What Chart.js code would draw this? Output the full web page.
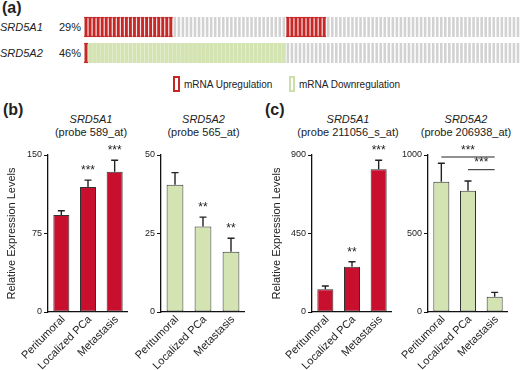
<!DOCTYPE html>
<html><head><meta charset="utf-8">
<script src="https://cdn.jsdelivr.net/npm/chart.js@4.4.1/dist/chart.umd.min.js"></script>
<style>
html,body{margin:0;padding:0;background:#fff;}
#fig{position:relative;width:520px;height:370px;overflow:hidden;font-family:"Liberation Sans",Arial,sans-serif;color:#222;background:#fff;}
.t{position:absolute;white-space:nowrap;line-height:1;}
.c{text-align:center;width:160px;}
canvas{position:absolute;}
.box{position:absolute;box-sizing:border-box;background:#fff;}
</style></head><body>
<div id="fig">
  <div class="t" style="left:2px;top:0px;font-size:16px;font-weight:bold">(a)</div>
  <div class="box" style="left:173px;top:76px;width:7px;height:16px;border:2px solid #c62828"></div>
  <div class="t" style="left:184px;top:79.5px;font-size:10px">mRNA Upregulation</div>
  <div class="box" style="left:289px;top:76px;width:6px;height:16px;border:2px solid #cddfa8"></div>
  <div class="t" style="left:299px;top:79.5px;font-size:10px">mRNA Downregulation</div>

  <div class="t" style="left:3px;top:101.5px;font-size:16px;font-weight:bold">(b)</div>
  <div class="t c" style="left:11px;top:113.6px;font-size:11px;font-style:italic">SRD5A1</div>
  <div class="t c" style="left:11px;top:127.3px;font-size:11px">(probe 589_at)</div>
  <div class="t c" style="left:123.5px;top:113.6px;font-size:11px;font-style:italic">SRD5A2</div>
  <div class="t c" style="left:123.5px;top:127.3px;font-size:11px">(probe 565_at)</div>

  <div class="t" style="left:265px;top:101.5px;font-size:16px;font-weight:bold">(c)</div>
  <div class="t c" style="left:268px;top:113.6px;font-size:11px;font-style:italic">SRD5A1</div>
  <div class="t c" style="left:268px;top:127.3px;font-size:11px">(probe 211056_s_at)</div>
  <div class="t c" style="left:386px;top:113.6px;font-size:11px;font-style:italic">SRD5A2</div>
  <div class="t c" style="left:386px;top:127.3px;font-size:11px">(probe 206938_at)</div>
</div>
<script>
// ---------- DATA ----------
// Panel (a): per-case alteration status, written as runs read left-to-right
const oncoGenes = ['SRD5A1', 'SRD5A2'];
const oncoPercents = ['29%', '46%'];
const casesSRD5A1 = [['up', 22], ['none', 28], ['up', 10], ['none', 48]];
const casesSRD5A2 = [['up', 1], ['down', 49], ['none', 58]];

// Panels (b) and (c)
const groups = ['Peritumoral', 'Localized PCa', 'Metastasis'];
const yTitle = 'Relative Expression Levels';

const b1Mean = [92.6, 119.4, 134.0];
const b1Sem  = [4.2, 6.6, 11.0];
const b1Sig  = ['', '***', '***'];
const b1Ticks = [0, 75, 150];

const b2Mean = [40.5, 27.2, 19.2];
const b2Sem  = [3.9, 3.0, 4.3];
const b2Sig  = ['', '**', '**'];
const b2Ticks = [0, 25, 50];

const c1Mean = [130, 260, 818];
const c1Sem  = [19, 28, 52];
const c1Sig  = ['', '**', '***'];
const c1Ticks = [0, 450, 900];

const c2Mean = [830, 773, 97];
const c2Sem  = [117, 61, 28];
const c2Sig  = ['', '', ''];
const c2Ticks = [0, 500, 1000];
const c2Comparisons = [[0, 2, '***'], [1, 2, '***']];

// ---------- STYLE ----------
const FONT = '"Liberation Sans", Arial, sans-serif';
Chart.defaults.font.family = FONT;
Chart.defaults.color = '#222';
const RED = '#c8102e';
const GREEN = '#d4e3b2';
const fig = document.getElementById('fig');

// ---------- PANEL (a) ----------
function expand(runs) {
  const out = [];
  runs.forEach(([kind, n]) => { for (let k = 0; k < n; k++) out.push(kind); });
  return out;
}
const rows = [expand(casesSRD5A1), expand(casesSRD5A2)];
rows.forEach((st, r) => {
  const cy = [27, 53.3][r];
  const g = document.createElement('div');
  g.className = 't'; g.style.cssText = `left:0px;top:${cy - 5.4}px;font-size:11px;font-style:italic`;
  g.textContent = oncoGenes[r]; fig.appendChild(g);
  const p = document.createElement('div');
  p.className = 't'; p.style.cssText = `left:59px;top:${cy - 5.4}px;font-size:11px`;
  p.textContent = oncoPercents[r]; fig.appendChild(p);
});
const caseLabels = rows[0].map((_, i) => 'case ' + (i + 1));
function rowData(st, r, kind) { return st.map(s => s === kind ? [r - 0.385, r + 0.385] : null); }
// Chart.js paints the first dataset on top, so the foreground marks come first
const oncoSets = [];
rows.forEach((st, r) => {
  oncoSets.push({ data: rowData(st, r, 'up'), backgroundColor: '#c62828', barPercentage: 0.7, categoryPercentage: 1, grouped: false });
  oncoSets.push({ data: rowData(st, r, 'up'), backgroundColor: '#f6dcdc', borderColor: '#c62828', borderWidth: { top: 1.5, bottom: 1.5, left: 0, right: 0 }, borderSkipped: false, barPercentage: 1, categoryPercentage: 1, grouped: false });
  oncoSets.push({ data: rowData(st, r, 'down'), backgroundColor: GREEN, barPercentage: 0.95, categoryPercentage: 1, grouped: false });
  oncoSets.push({ data: rowData(st, r, 'none'), backgroundColor: '#d2d2d2', barPercentage: 0.64, categoryPercentage: 1, grouped: false });
});
{
  const cv = document.createElement('canvas');
  cv.width = 436; cv.height = 52; cv.style.left = '84px'; cv.style.top = '14px';
  fig.appendChild(cv);
  new Chart(cv, {
    type: 'bar',
    data: { labels: caseLabels, datasets: oncoSets },
    options: {
      responsive: false, animation: false, devicePixelRatio: 1,
      layout: { padding: 0 },
      plugins: { legend: { display: false }, tooltip: { enabled: false } },
      scales: {
        x: { display: false },
        y: { display: false, min: -0.5, max: 1.5, reverse: true }
      }
    }
  });
}

// ---------- PANELS (b), (c) ----------
const errPlugin = {
  id: 'errbars',
  afterDatasetsDraw(chart, args, o) {
    const ctx = chart.ctx, ys = chart.scales.y, meta = chart.getDatasetMeta(0);
    ctx.save();
    ctx.strokeStyle = '#222'; ctx.lineWidth = 1.4; ctx.fillStyle = '#222';
    ctx.font = '12px ' + FONT; ctx.textAlign = 'center'; ctx.textBaseline = 'alphabetic';
    meta.data.forEach((bar, i) => {
      const top = ys.getPixelForValue(o.means[i] + o.sems[i]);
      ctx.beginPath();
      ctx.moveTo(bar.x, bar.y); ctx.lineTo(bar.x, top);
      ctx.moveTo(bar.x - 3.5, top); ctx.lineTo(bar.x + 3.5, top);
      ctx.stroke();
      if (o.sig[i]) ctx.fillText(o.sig[i], bar.x, top - 6);
    });
    (o.brackets || []).forEach(([a, b, lab], k) => {
      const y = chart.chartArea.top + o.bracketOffsets[k];
      const xa = meta.data[a].x, xb = meta.data[b].x;
      ctx.lineWidth = 1;
      ctx.beginPath(); ctx.moveTo(xa, y); ctx.lineTo(xb, y); ctx.stroke();
      ctx.fillText(lab, (xa + xb) / 2, y - 3.5);
    });
    ctx.restore();
  }
};

function barPanel(left, width, yWidth, means, sems, sig, ticks, color, showTitle, brackets) {
  const cv = document.createElement('canvas');
  cv.width = width; cv.height = 225; cv.style.left = left + 'px'; cv.style.top = '145px';
  fig.appendChild(cv);
  new Chart(cv, {
    type: 'bar',
    data: { labels: groups, datasets: [{ data: means, backgroundColor: color, borderColor: '#333', borderWidth: 1, borderSkipped: false, barPercentage: 0.6, categoryPercentage: 1 }] },
    options: {
      responsive: false, animation: false, devicePixelRatio: 1,
      layout: { padding: { top: 10, left: 0, right: 0, bottom: 0 } },
      plugins: {
        legend: { display: false }, tooltip: { enabled: false },
        errbars: { means, sems, sig, brackets, bracketOffsets: [2, 14.7] }
      },
      scales: {
        x: {
          grid: { display: false, drawTicks: false, tickLength: 0 },
          border: { display: true, color: '#111', width: 1.3 },
          ticks: { font: { size: 11 }, color: '#222', minRotation: 45, maxRotation: 45, autoSkip: false, padding: 1, labelOffset: 2 },
          afterFit(s) { s.height = 58; s.paddingLeft = 0; s.paddingRight = 0; }
        },
        y: {
          min: ticks[0], max: ticks[ticks.length - 1],
          afterBuildTicks(s) { s.ticks = ticks.map(v => ({ value: v })); },
          grid: { drawOnChartArea: false, drawTicks: true, tickLength: 4, color: '#111' },
          border: { color: '#111', width: 1.3 },
          ticks: { font: { size: 9 }, color: '#222', padding: 2, callback: v => String(v) },
          title: { display: showTitle, text: yTitle, font: { size: 11 }, color: '#222', padding: { top: 5, bottom: 0 } },
          afterFit(s) { s.width = yWidth; s.paddingTop = 0; s.paddingBottom = 0; }
        }
      }
    },
    plugins: [errPlugin]
  });
}

barPanel(0, 128, 48, b1Mean, b1Sem, b1Sig, b1Ticks, RED, true);
barPanel(125, 120, 36, b2Mean, b2Sem, b2Sig, b2Ticks, GREEN, false);
barPanel(265, 127, 47, c1Mean, c1Sem, c1Sig, c1Ticks, RED, true);
barPanel(392, 116, 36, c2Mean, c2Sem, c2Sig, c2Ticks, GREEN, false, c2Comparisons);
</script>
</body></html>
